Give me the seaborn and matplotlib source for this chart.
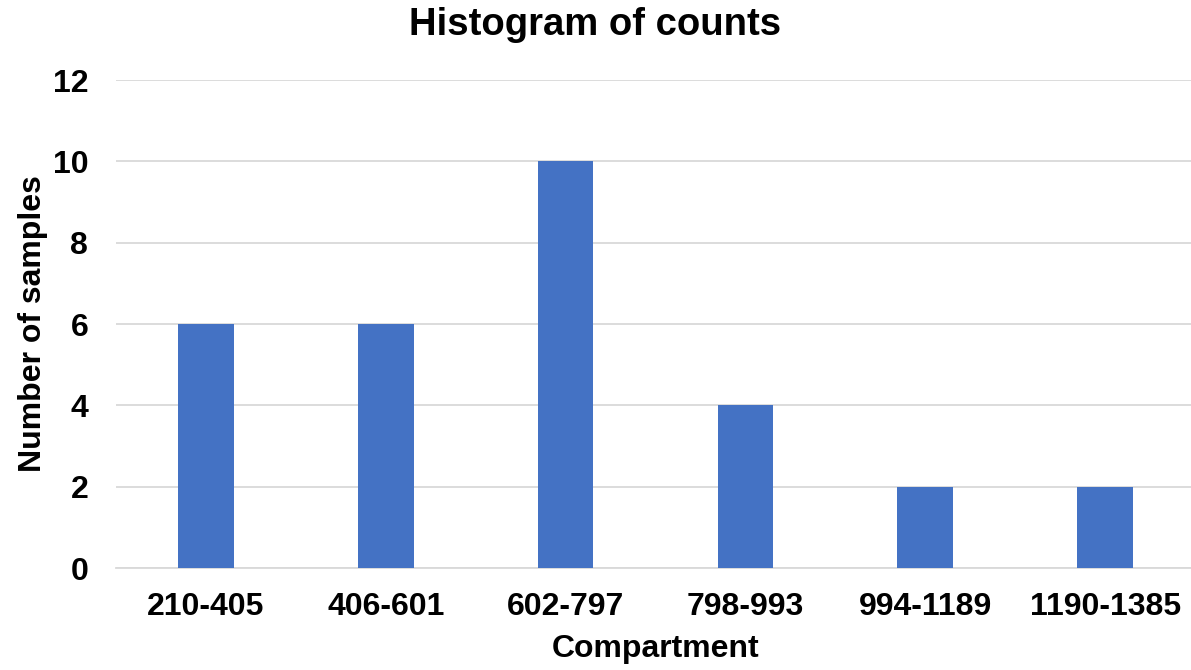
import matplotlib
matplotlib.use("Agg")
import matplotlib.pyplot as plt
import seaborn as sns
import pandas as pd

categories = ["210-405", "406-601", "602-797", "798-993", "994-1189", "1190-1385"]
counts = [6, 6, 10, 4, 2, 2]
yticks = [0, 2, 4, 6, 8, 10, 12]

sns.set_theme(style="white")
plt.rcParams['font.family'] = ['Liberation Sans', 'DejaVu Sans']
plt.rcParams['text.color'] = 'black'
plt.rcParams['axes.labelcolor'] = 'black'
plt.rcParams['xtick.color'] = 'black'
plt.rcParams['ytick.color'] = 'black'

df = pd.DataFrame({"Compartment": categories, "Number of samples": counts})

fig = plt.figure(figsize=(11.91, 6.70), dpi=100)
ax = fig.add_axes([116 / 1191, 1 - 568 / 670, 1079 / 1191, 488 / 670])
sns.barplot(data=df, x="Compartment", y="Number of samples", color="#4472C4",
            saturation=1, width=0.31, ax=ax, zorder=3, edgecolor="none", linewidth=0)
ax.set_ylim(0, 12)
ax.set_yticks(yticks)
ax.set_xlim(-0.5, len(categories) - 0.5)
ax.yaxis.grid(True, color="#D9D9D9", linewidth=1.3, zorder=0)
for s in ["top", "right", "left"]:
    ax.spines[s].set_visible(False)
ax.spines["bottom"].set_color("#D9D9D9")
ax.spines["bottom"].set_linewidth(1.3)
ax.tick_params(axis="both", length=0, labelsize=23)
ax.tick_params(axis="x", pad=17)
ax.tick_params(axis="y", pad=20)
for lab in ax.get_xticklabels() + ax.get_yticklabels():
    lab.set_fontweight("bold")
ax.set_xlabel("Compartment", fontsize=23, fontweight="bold", labelpad=9)
ax.set_ylabel("Number of samples", fontsize=23, fontweight="bold", labelpad=3)
fig.suptitle("Histogram of counts", fontsize=27.5, fontweight="bold", y=0.99)

fig.savefig("out.png", dpi=100)
